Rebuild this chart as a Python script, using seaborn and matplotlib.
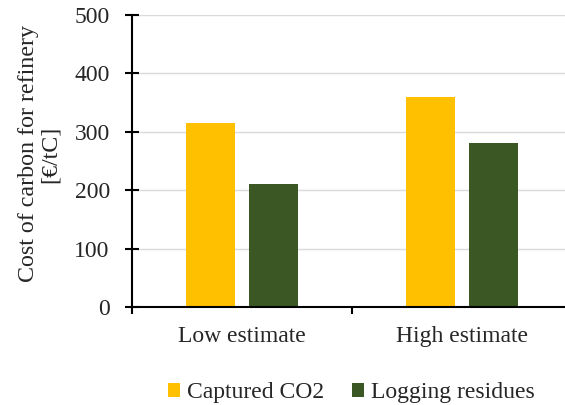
import matplotlib
matplotlib.use("Agg")
import matplotlib.pyplot as plt
import seaborn as sns
import pandas as pd
from matplotlib.patches import Patch

# Cost of carbon for the refinery, by estimate and carbon source
estimates = ["Low estimate", "High estimate"]
sources = ["Captured CO2", "Logging residues"]
captured_co2 = [315, 360]
logging_residues = [210, 280]
colors = ["#FFC000", "#3A5724"]

df = pd.DataFrame({
    "estimate": estimates * 2,
    "source": [sources[0]] * 2 + [sources[1]] * 2,
    "cost": captured_co2 + logging_residues,
})

sns.set_theme(style="white")
plt.rcParams["font.family"] = ["Liberation Serif", "DejaVu Serif"]
plt.rcParams["font.size"] = 17

fig = plt.figure(figsize=(5.65, 4.05), dpi=100)
ax = fig.add_axes([132 / 565, 1 - 307 / 405, 440 / 565, 292 / 405])

sns.barplot(data=df, x="estimate", y="cost", hue="source", order=estimates,
            hue_order=sources, palette=colors, width=0.571, gap=0.214,
            saturation=1, edgecolor="none", legend=False, ax=ax)

ax.set_xlim(-0.5, 1.5)
ax.set_ylim(0, 500)
ax.set_yticks(range(0, 501, 100))
ax.yaxis.grid(True, color="#D9D9D9", linewidth=1.0)
ax.set_axisbelow(True)

for side in ("top", "right"):
    ax.spines[side].set_visible(False)
for side in ("left", "bottom"):
    ax.spines[side].set_color("black")
    ax.spines[side].set_linewidth(1.5)

# category labels centred between boundary ticks
ax.set_xticks([-0.5, 0.5, 1.5])
ax.set_xticklabels([])
ax.set_xticks([0, 1], minor=True)
ax.set_xticklabels(estimates, minor=True, fontsize=17)
ax.tick_params(axis="x", which="major", direction="out", length=5, width=1.5,
               color="black", bottom=True)
ax.tick_params(axis="x", which="minor", length=0, pad=14)
ax.tick_params(axis="y", direction="inout", length=10, width=1.5,
               color="black", labelsize=17, pad=11, left=True)

ax.set_xlabel("")
ax.set_ylabel("")
fig.text(0.069, 0.620, "Cost of carbon for refinery\n[€/tC]", rotation=90,
         ha="center", va="center", fontsize=17.3, linespacing=1.05)

handles = [Patch(facecolor=c, edgecolor="none") for c in colors]
fig.legend(handles, sources, loc="center", bbox_to_anchor=(0.622, 0.03),
           ncol=2, frameon=False, fontsize=17, handlelength=0.5,
           handleheight=0.5, handletextpad=0.3, columnspacing=1.2)

fig.savefig("out.png", dpi=100)
